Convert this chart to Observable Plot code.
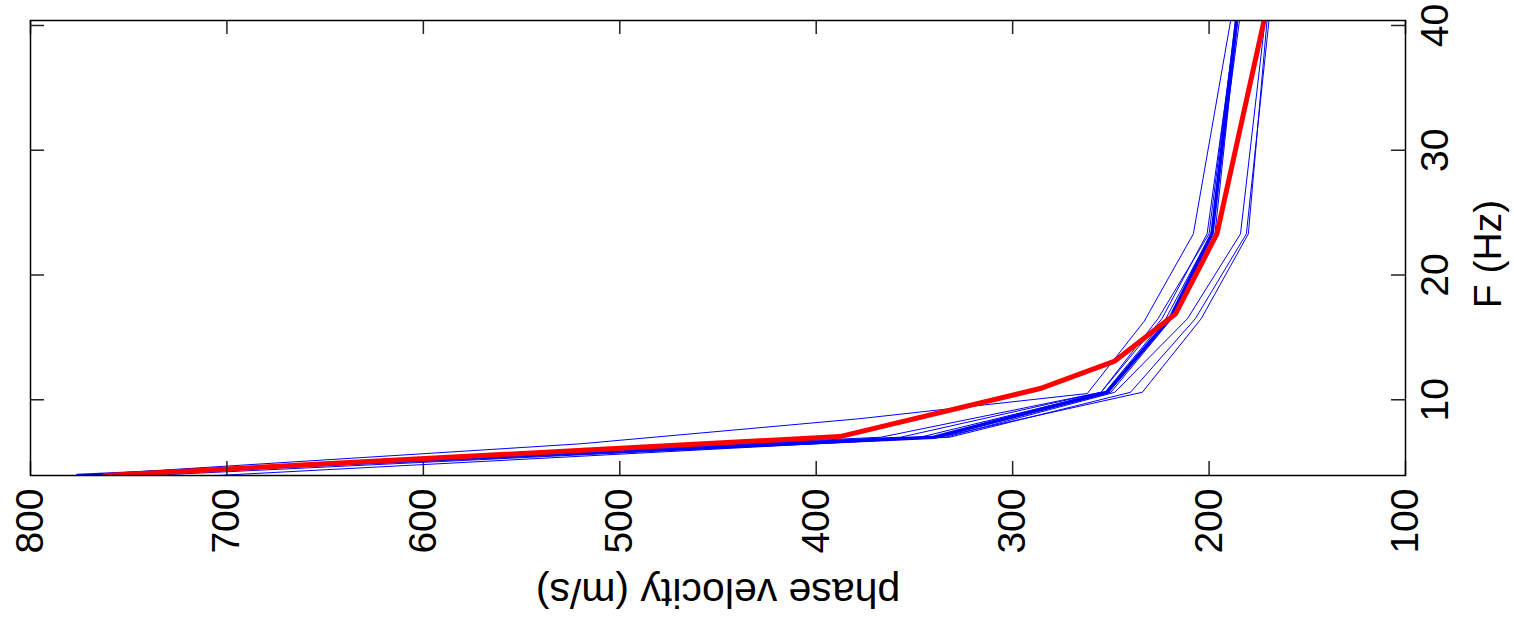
<!DOCTYPE html>
<html>
<head>
<meta charset="utf-8">
<script src="https://cdn.jsdelivr.net/npm/d3@7"></script>
<script src="https://cdn.jsdelivr.net/npm/@observablehq/plot@0.6"></script>
<style>
  html, body { margin: 0; padding: 0; background: #fff; }
  #chart svg { display: block; }
</style>
</head>
<body>
<div id="chart"></div>
<script>
// Axis ticks
const velocityTicks = [100, 200, 300, 400, 500, 600, 700, 800];
const freqTicks = [10, 20, 30, 40];

// Frequencies (Hz) at which the blue dispersion curves are sampled
const blueFreq = [3.93, 7.0, 10.6, 16.5, 23.3, 40.4];

// Phase velocities (m/s) of the thin blue curves, one row per curve
const blueVel = [
  [776, 357, 255, 224, 201, 186],
  [772, 347, 253, 222, 199, 184.5],
  [768, 339, 250, 219, 197, 185.5],
  [760, 334, 248, 211, 184, 171.5],
  [740, 332, 240, 207, 181, 169.5],
  [705, 337, 234, 204, 180, 170.5],
  [776, 367, 255, 226, 200, 186.5]
];

// The thin blue curve that separates from the bundle at low frequency
const outlierFreq = [3.93, 6.47, 8.48, 10.5, 16.3, 23.3, 40.4];
const outlierVel = [776, 520, 378, 262, 233, 208, 189];

// Thick blue curve
const thickVel = [776, 340, 252, 220, 198.5, 186];

// Thick red curve
const redFreq = [3.93, 7.05, 10.9, 13.1, 16.9, 23.3, 40.4];
const redVel = [762, 388, 286, 248, 217, 196, 172];

// Long-format rows for the line marks
const thinRows = [];
blueVel.forEach((vals, i) => vals.forEach((v, j) => thinRows.push({id: "b" + i, f: blueFreq[j], v})));
outlierVel.forEach((v, j) => thinRows.push({id: "outlier", f: outlierFreq[j], v}));
const thickRows = thickVel.map((v, j) => ({f: blueFreq[j], v}));
const redRows = redVel.map((v, j) => ({f: redFreq[j], v}));

const W = 1514, H = 628;
const mL = 30, mR = 109, mT = 20, mB = 153;
const plotW = W - mL - mR, plotH = H - mT - mB;
const tickLen = 14;
const font = 39;

const chart = Plot.plot({
  width: W,
  height: H,
  marginLeft: mL,
  marginRight: mR,
  marginTop: mT,
  marginBottom: mB,
  style: {fontFamily: "'Liberation Sans', Arial, sans-serif", background: "#fff", color: "#000"},
  x: {domain: [800, 100], axis: null},
  y: {domain: [3.93, 40.4], axis: null},
  marks: [
    // curves
    Plot.line(thinRows, {x: "v", y: "f", z: "id", stroke: "#0000ff", strokeWidth: 1, clip: true}),
    Plot.line(thickRows, {x: "v", y: "f", stroke: "#0000ff", strokeWidth: 3.5, clip: true}),
    Plot.line(redRows, {x: "v", y: "f", stroke: "#ff0000", strokeWidth: 5, clip: true}),
    // inward ticks on all four sides
    Plot.ruleX(velocityTicks, {x: d => d, insetTop: plotH - tickLen, stroke: "#222", strokeWidth: 1.5}),
    Plot.ruleX(velocityTicks, {x: d => d, insetBottom: plotH - tickLen, stroke: "#222", strokeWidth: 1.5}),
    Plot.ruleY(freqTicks, {y: d => d, insetRight: plotW - tickLen, stroke: "#222", strokeWidth: 1.5}),
    Plot.ruleY(freqTicks, {y: d => d, insetLeft: plotW - tickLen, stroke: "#222", strokeWidth: 1.5}),
    Plot.frame({stroke: "#000", strokeWidth: 1.5}),
    // tick labels
    Plot.text(velocityTicks, {
      x: d => d, text: d => String(d), frameAnchor: "bottom", dy: 13,
      rotate: -90, textAnchor: "end", lineAnchor: "middle", fontSize: font, fill: "#000"
    }),
    Plot.text(freqTicks, {
      y: d => d, text: d => String(d), frameAnchor: "right", dx: 15,
      rotate: -90, textAnchor: "middle", lineAnchor: "top", fontSize: font, fill: "#000"
    }),
    // axis titles
    Plot.text(["F (Hz)"], {
      text: d => d, frameAnchor: "right", dx: 68, dy: 6,
      rotate: -90, textAnchor: "middle", lineAnchor: "top", fontSize: font, fill: "#000"
    }),
    Plot.text(["phase velocity (m/s)"], {
      text: d => d, frameAnchor: "bottom", dy: 117,
      rotate: 180, textAnchor: "middle", lineAnchor: "middle", fontSize: 41, fill: "#000"
    })
  ]
});

document.getElementById("chart").appendChild(chart);
</script>
</body>
</html>
